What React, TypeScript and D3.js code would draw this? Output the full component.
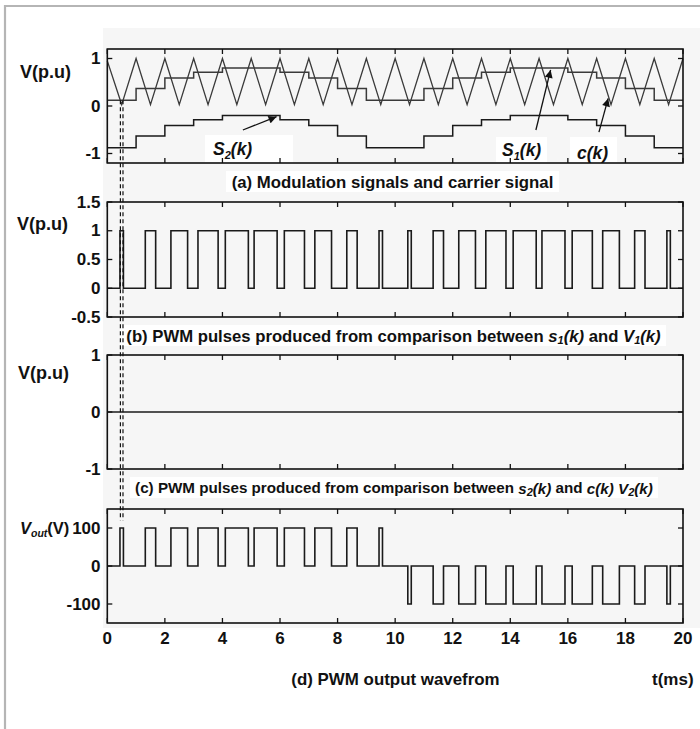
import React from 'react';
import * as d3 from 'd3';

// ---------- data ----------
const xTickValues = [0, 2, 4, 6, 8, 10, 12, 14, 16, 18, 20];

// carrier c(k): triangle vertices (ms, p.u.)
const carrierTimes = [0, 0.5, 1, 1.5, 2, 2.5, 3, 3.5, 4, 4.5, 5, 5.5, 6, 6.5, 7, 7.5, 8, 8.5, 9, 9.5, 10,
  10.5, 11, 11.5, 12, 12.5, 13, 13.5, 14, 14.5, 15, 15.5, 16, 16.5, 17, 17.5, 18, 18.5, 19, 19.5, 20];
const carrierValues = [0.95, 0.03, 1, 0.03, 1, 0.03, 1, 0.03, 1, 0.03, 1, 0.03, 1, 0.03, 1, 0.03, 1, 0.03, 1, 0.03, 1,
  0.03, 1, 0.03, 1, 0.03, 1, 0.03, 1, 0.03, 1, 0.03, 1, 0.03, 1, 0.03, 1, 0.03, 1, 0.03, 1];

// staircase modulation signals
const stepEdges = [0, 1, 2, 3, 4, 6, 7, 8, 9, 11, 12, 13, 14, 16, 17, 18, 19, 20];
const s1Levels = [0.12, 0.37, 0.59, 0.71, 0.8, 0.71, 0.59, 0.37, 0.12, 0.37, 0.59, 0.71, 0.8, 0.71, 0.59, 0.37, 0.12];
const s2Levels = [-0.88, -0.63, -0.41, -0.29, -0.2, -0.29, -0.41, -0.63, -0.88, -0.63, -0.41, -0.29, -0.2, -0.29, -0.41, -0.63, -0.88];

// PWM pulses (ms)
const pulseStart = [0.44, 1.32, 2.21, 3.15, 4.1, 5.1, 6.15, 7.21, 8.32, 9.44, 10.44, 11.32, 12.21, 13.15, 14.1, 15.1, 16.15, 17.21, 18.32, 19.44];
const pulseEnd = [0.56, 1.68, 2.79, 3.85, 4.9, 5.9, 6.85, 7.79, 8.68, 9.56, 10.56, 11.68, 12.79, 13.85, 14.9, 15.9, 16.85, 17.79, 18.68, 19.56];
const voutSign = [1, 1, 1, 1, 1, 1, 1, 1, 1, 1, -1, -1, -1, -1, -1, -1, -1, -1, -1, -1];
const voutAmplitude = 100;

const aTicks = [-1, 0, 1];
const bTicks = [-0.5, 0, 0.5, 1, 1.5];
const cTicks = [-1, 0, 1];
const dTicks = [-100, 0, 100];

// ---------- layout ----------
const FONT = "'Liberation Sans', Arial, Helvetica, sans-serif";
const X0 = 107.3;
const X1 = 683;

type PanelDef = { top: number; bottom: number; domain: [number, number]; ticks: number[] };

const PA: PanelDef = { top: 49, bottom: 163, domain: [-1.2, 1.2], ticks: aTicks };
const PB: PanelDef = { top: 202, bottom: 317, domain: [-0.5, 1.5], ticks: bTicks };
const PC: PanelDef = { top: 355, bottom: 469, domain: [-1, 1], ticks: cTicks };
const PD: PanelDef = { top: 509, bottom: 623, domain: [-150, 150], ticks: dTicks };

function yScale(p: PanelDef) {
  return d3.scaleLinear().domain(p.domain).range([p.bottom, p.top]);
}

function PanelFrame({ p, x }: { p: PanelDef; x: d3.ScaleLinear<number, number> }) {
  const y = yScale(p);
  const tl = 5;
  return (
    <g>
      {xTickValues.map((t) => (
        <g key={'xt' + t}>
          <line x1={x(t)} x2={x(t)} y1={p.top} y2={p.top + tl} stroke="#111" strokeWidth={1.3} />
          <line x1={x(t)} x2={x(t)} y1={p.bottom} y2={p.bottom - tl} stroke="#111" strokeWidth={1.3} />
        </g>
      ))}
      {p.ticks.map((v) => (
        <g key={'yt' + v}>
          <line x1={X0} x2={X0 + tl} y1={y(v)} y2={y(v)} stroke="#111" strokeWidth={1.3} />
          <line x1={X1} x2={X1 - tl} y1={y(v)} y2={y(v)} stroke="#111" strokeWidth={1.3} />
          <text x={100.5} y={y(v)} textAnchor="end" dominantBaseline="central"
            fontFamily={FONT} fontWeight="bold" fontSize={17} fill="#111">{String(v)}</text>
        </g>
      ))}
      <rect x={X0} y={p.top} width={X1 - X0} height={p.bottom - p.top} fill="none" stroke="#111" strokeWidth={1.6} />
    </g>
  );
}

export default function App() {
  const x = d3.scaleLinear().domain([0, 20]).range([X0, X1]);
  const ya = yScale(PA), yb = yScale(PB), yc = yScale(PC), yd = yScale(PD);

  const carrierPts: [number, number][] = carrierTimes.map((t, i) => [t, carrierValues[i]]);
  const carrierPath = d3.line<[number, number]>().x((d) => x(d[0])).y((d) => ya(d[1]))(carrierPts) || '';

  const stepPts = (levels: number[]): [number, number][] => {
    const pts: [number, number][] = levels.map((l, i) => [stepEdges[i], l]);
    pts.push([stepEdges[stepEdges.length - 1], levels[levels.length - 1]]);
    return pts;
  };
  const stepLine = d3.line<[number, number]>().x((d) => x(d[0])).y((d) => ya(d[1])).curve(d3.curveStepAfter);
  const s1Path = stepLine(stepPts(s1Levels)) || '';
  const s2Path = stepLine(stepPts(s2Levels)) || '';

  const pulsePts = (amp: (i: number) => number): [number, number][] => {
    const pts: [number, number][] = [[0, 0]];
    pulseStart.forEach((s, i) => {
      pts.push([s, 0], [s, amp(i)], [pulseEnd[i], amp(i)], [pulseEnd[i], 0]);
    });
    pts.push([20, 0]);
    return pts;
  };
  const bPath = d3.line<[number, number]>().x((d) => x(d[0])).y((d) => yb(d[1]))(pulsePts(() => 1)) || '';
  const cPath = d3.line<[number, number]>().x((d) => x(d[0])).y((d) => yc(d[1]))([[0, 0], [20, 0]]) || '';
  const dPath = d3.line<[number, number]>().x((d) => x(d[0])).y((d) => yd(d[1]))(
    pulsePts((i) => voutSign[i] * voutAmplitude)) || '';

  const dashTimes = [0.455, 0.545];
  const dashTop = ya(0.12);
  const dashBottom = yd(120);

  const titleStyle = { fontFamily: FONT, fontWeight: 'bold' as const, fontSize: 16, fill: '#111' };
  const sub = { fontSize: 11 };

  return (
    <svg width={700} height={729} style={{ position: 'absolute', left: 0, top: 0, background: '#fff' }}>
      <defs>
        <marker id="arrowHead" viewBox="0 0 10 10" refX="10" refY="5" markerWidth="10" markerHeight="8"
          orient="auto" markerUnits="userSpaceOnUse">
          <path d="M0,0 L10,5 L0,10 z" fill="#111" />
        </marker>
      </defs>
      {/* outer frame */}
      <rect x={0} y={0} width={700} height={729} fill="#fff" />
      <rect x={103} y={28} width={597} height={600} fill="#f6f6f6" />
      <line x1={5} x2={5} y1={5} y2={729} stroke="#b5b5b5" strokeWidth={2.2} />
      <line x1={4} x2={700} y1={6} y2={6} stroke="#b5b5b5" strokeWidth={2.2} />

      {/* white label backgrounds */}
      <rect x={226} y={171} width={333} height={21} fill="#fff" />
      <rect x={120} y={325} width={546} height={21} fill="#fff" />
      <rect x={130} y={477} width={528} height={21} fill="#fff" />
      <rect x={205} y={135} width={88} height={27} fill="#fff" />
      <rect x={496} y={137} width={51} height={25} fill="#fff" />
      <rect x={570} y={137} width={47} height={25} fill="#fff" />

      {/* panel (a) */}
      <path d={carrierPath} fill="none" stroke="#3a3a3a" strokeWidth={1.3} />
      <path d={s1Path} fill="none" stroke="#3a3a3a" strokeWidth={1.5} />
      <path d={s2Path} fill="none" stroke="#1a1a1a" strokeWidth={1.5} />
      <PanelFrame p={PA} x={x} />

      {/* panel (b) */}
      <path d={bPath} fill="none" stroke="#1a1a1a" strokeWidth={1.6} />
      <PanelFrame p={PB} x={x} />

      {/* panel (c) */}
      <path d={cPath} fill="none" stroke="#1a1a1a" strokeWidth={1.6} />
      <PanelFrame p={PC} x={x} />

      {/* panel (d) */}
      <path d={dPath} fill="none" stroke="#1a1a1a" strokeWidth={1.6} />
      <PanelFrame p={PD} x={x} />

      {/* dashed double line */}
      {dashTimes.map((t) => (
        <line key={'dash' + t} x1={x(t)} x2={x(t)} y1={dashTop} y2={dashBottom}
          stroke="#111" strokeWidth={1.2} strokeDasharray="4,3" />
      ))}

      {/* x tick labels */}
      {xTickValues.map((t) => (
        <text key={'xl' + t} x={x(t)} y={638} textAnchor="middle" dominantBaseline="central"
          fontFamily={FONT} fontWeight="bold" fontSize={17} fill="#111">{t}</text>
      ))}

      {/* y labels */}
      <text x={20} y={72} dominantBaseline="central" {...titleStyle} fontSize={18}>V(p.u)</text>
      <text x={17} y={224} dominantBaseline="central" {...titleStyle} fontSize={18}>V(p.u)</text>
      <text x={18} y={373} dominantBaseline="central" {...titleStyle} fontSize={18}>V(p.u)</text>
      <text x={20} y={528} dominantBaseline="central" {...titleStyle} fontSize={16.5}>
        <tspan fontStyle="italic">V</tspan>
        <tspan fontStyle="italic" fontSize={10.5} dy={5}>out</tspan>
        <tspan dy={-5}>(V)</tspan>
      </text>

      {/* annotations in (a) */}
      <line x1={x(4.71)} y1={ya(-0.505)} x2={x(5.88)} y2={ya(-0.225)} stroke="#111" strokeWidth={1.3} markerEnd="url(#arrowHead)" />
      <line x1={x(14.89)} y1={ya(-0.505)} x2={x(15.4)} y2={ya(0.76)} stroke="#111" strokeWidth={1.3} markerEnd="url(#arrowHead)" />
      <line x1={x(17.08)} y1={ya(-0.55)} x2={x(17.4)} y2={ya(0.16)} stroke="#111" strokeWidth={1.3} markerEnd="url(#arrowHead)" />
      <text x={213} y={155} {...titleStyle} fontSize={17.5} fontStyle="italic">
        S<tspan {...sub} dy={4}>2</tspan><tspan dy={-4}>(k)</tspan>
      </text>
      <text x={502} y={155.5} {...titleStyle} fontSize={17.5} fontStyle="italic">
        S<tspan {...sub} dy={4}>1</tspan><tspan dy={-4}>(k)</tspan>
      </text>
      <text x={577} y={159} {...titleStyle} fontSize={17.5} fontStyle="italic">c(k)</text>

      {/* titles */}
      <text x={392.5} y={182} textAnchor="middle" dominantBaseline="central" {...titleStyle} fontSize={16.8}>
        (a) Modulation signals and carrier signal
      </text>
      <text x={393.5} y={336} textAnchor="middle" dominantBaseline="central" {...titleStyle} fontSize={16.7}>
        (b) PWM pulses produced from comparison between <tspan fontStyle="italic">s</tspan>
        <tspan fontStyle="italic" {...sub} dy={4}>1</tspan>
        <tspan fontStyle="italic" dy={-4}>(k)</tspan> and <tspan fontStyle="italic">V</tspan>
        <tspan fontStyle="italic" {...sub} dy={4}>1</tspan>
        <tspan fontStyle="italic" dy={-4}>(k)</tspan>
      </text>
      <text x={394} y={487.5} textAnchor="middle" dominantBaseline="central" {...titleStyle} fontSize={15.2}>
        (c) PWM pulses produced from comparison between <tspan fontStyle="italic">s</tspan>
        <tspan fontStyle="italic" {...sub} dy={4}>2</tspan>
        <tspan fontStyle="italic" dy={-4}>(k)</tspan> and <tspan fontStyle="italic">c(k) V</tspan>
        <tspan fontStyle="italic" {...sub} dy={4}>2</tspan>
        <tspan fontStyle="italic" dy={-4}>(k)</tspan>
      </text>
      <text x={395.5} y={679} textAnchor="middle" dominantBaseline="central" {...titleStyle} fontSize={16.9}>
        (d) PWM output wavefrom
      </text>
      <text x={652} y={679} dominantBaseline="central" {...titleStyle} fontSize={17}>t(ms)</text>
    </svg>
  );
}
